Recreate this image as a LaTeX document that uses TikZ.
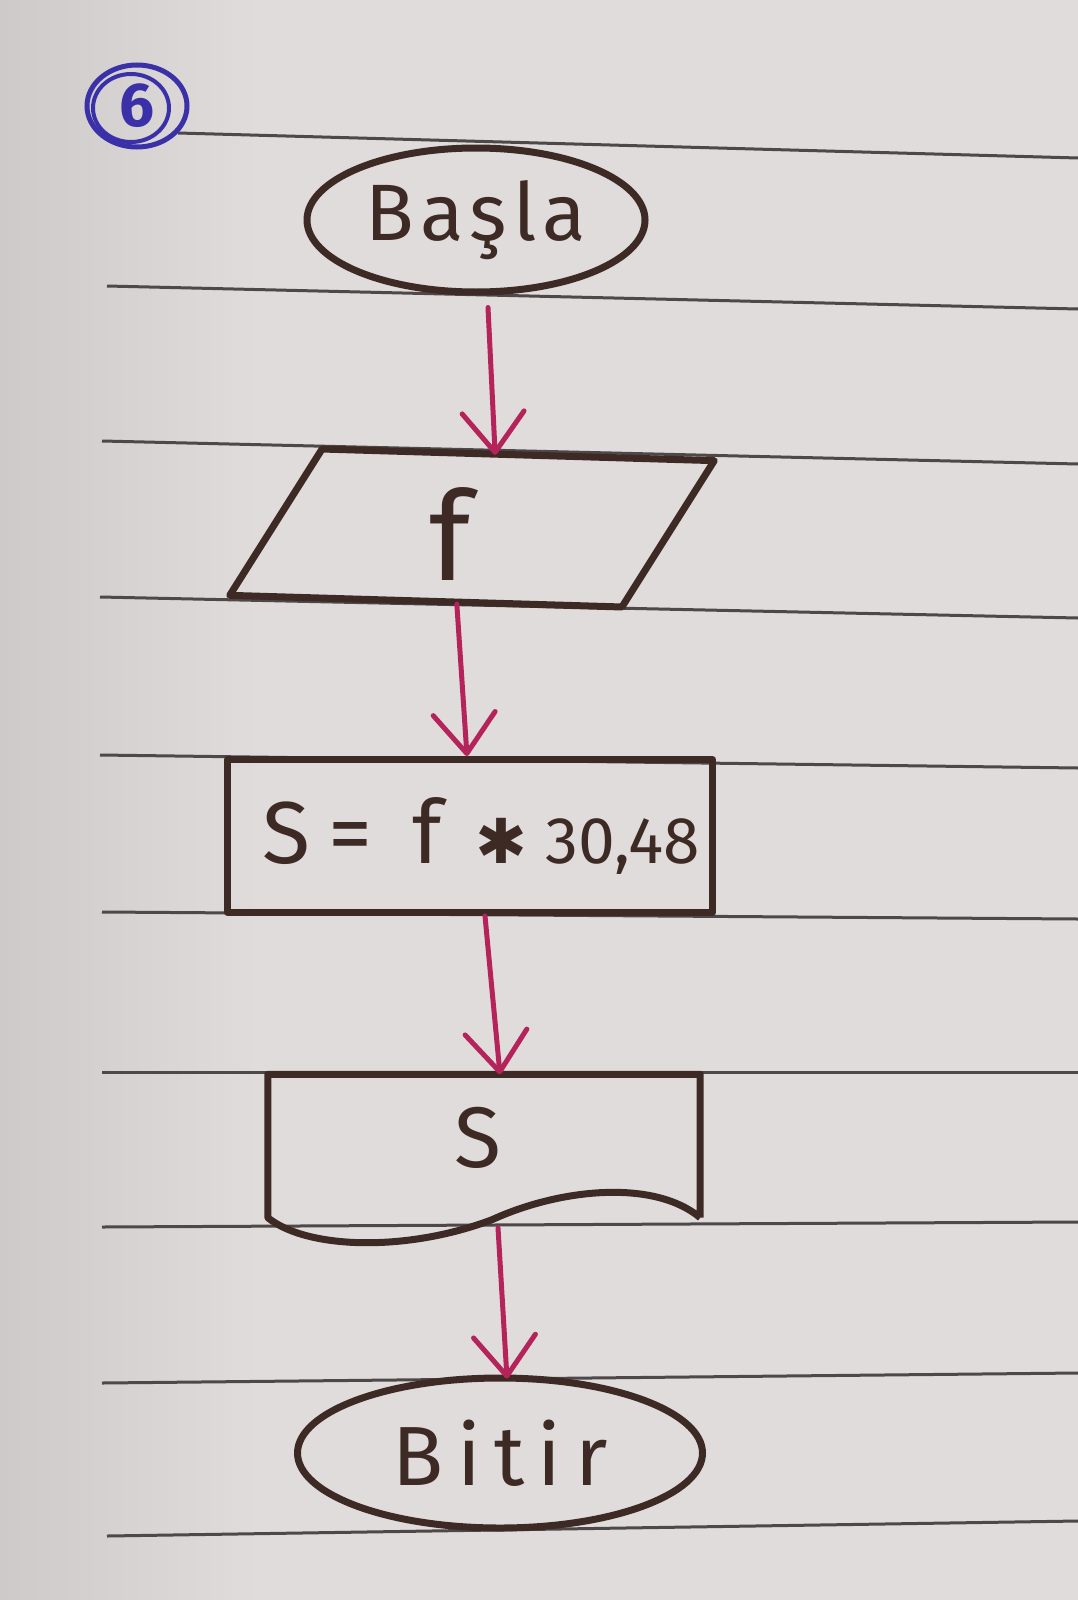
\documentclass[tikz,border=0pt]{standalone}
\usepackage{fontspec}
\setmainfont{Fira Sans}
\newfontfamily\symfam{DejaVu Sans}
\usetikzlibrary{shapes.geometric,arrows.meta,calc}
\definecolor{paper}{RGB}{224,220,219}
\definecolor{paperdark}{RGB}{206,202,202}
\definecolor{ruleink}{RGB}{78,72,72}
\definecolor{ink}{RGB}{62,42,36}
\definecolor{arrowink}{RGB}{180,36,90}
\definecolor{blueink}{RGB}{58,48,168}
\tikzset{
  ruled/.style={ruleink, line width=3pt},
  shapeline/.style={draw=ink, line width=7pt, line join=round},
  flowtext/.style={text=ink, font=\fontsize{80}{84}\selectfont},
  flowarrow/.style={arrowink, line width=5pt, line cap=round,
    -{Straight Barb[length=40pt, width=62pt, line cap=round, line join=round]}},
}
\begin{document}
\begin{tikzpicture}[x=1pt,y=-1pt]
\useasboundingbox (0,0) rectangle (1078,1600);
\fill[paper] (0,0) rectangle (1078,1600);
\shade[left color=paperdark, right color=paper] (0,0) rectangle (260,1600);

% ruled notebook lines
\foreach \ya/\xa/\yb in {133/178/158, 286/107/309, 441/102/464, 597/100/618, 755/100/768,
  912/102/919, 1072/102/1072, 1227/102/1222, 1383/102/1373, 1536/107/1521}
  \draw[ruled] (\xa,\ya) -- (1078,\yb);

% circled number
\node[text=blueink, font=\bfseries\fontsize{62}{62}\selectfont] (num) at (137,106) {6};
\draw[blueink, line width=5pt] (num.center) ellipse [x radius=50pt, y radius=41pt];
\draw[blueink, line width=4pt] ($(num.center)+(-6,2)$) ellipse [x radius=38pt, y radius=34pt];

% flowchart shapes
\node[ellipse, shapeline, minimum width=338pt, minimum height=144pt, flowtext]
  (start) at (476,220) {\addfontfeature{LetterSpace=8}Başla};

\node[minimum width=392pt, minimum height=146pt, rotate=-1.7] (io) at (472,528) {};
\draw[shapeline] ($(io.north west)+(44,0)$) -- ($(io.north east)+(44,0)$)
  -- ($(io.south east)+(-44,0)$) -- ($(io.south west)+(-44,0)$) -- cycle;
\node[text=ink, font=\fontsize{124}{124}\selectfont] (iotext) at (450,534) {f};

\node[rectangle, shapeline, minimum width=485pt, minimum height=153pt]
  (proc) at (470,836) {};
\node[text=ink, anchor=west, inner sep=0pt] (proctext) at (262,836)
  {{\fontsize{88}{90}\selectfont S\hspace{18pt}=\hspace{40pt}f\hspace{34pt}}%
   {\symfam\fontsize{62}{62}\selectfont\raisebox{0pt}{✱}}\hspace{18pt}%
   {\fontsize{66}{68}\selectfont 30,48}};

\node[minimum width=432pt, minimum height=143pt] (out) at (484,1146) {};
\draw[shapeline] (out.south east) -- (out.north east) -- (out.north west) -- (out.south west)
  .. controls ($(out.south west)+(40,32)$) and ($(out.south west)+(140,34)$) .. ($(out.south)+(8,2)$)
  .. controls ($(out.south)+(78,-30)$) and ($(out.south east)+(-45,-38)$) .. (out.south east);
\node[text=ink, font=\fontsize{86}{86}\selectfont] (outtext) at (478,1138) {S};

\node[ellipse, shapeline, minimum width=405pt, minimum height=150pt, flowtext,
  font=\fontsize{84}{86}\selectfont]
  (stop) at (500,1453) {\addfontfeature{LetterSpace=16}Bitir};

% connectors
\draw[flowarrow] ([xshift=12pt,yshift=-12pt]start.south) -- ([xshift=21pt]io.north);
\draw[flowarrow] ([xshift=-13pt,yshift=-3pt]io.south) -- ([xshift=-3pt]proc.north);
\draw[flowarrow] ([xshift=15pt]proc.south) -- ([xshift=16pt]out.north);
\draw[flowarrow] ([xshift=14pt,yshift=-10pt]out.south) -- ([xshift=7pt,yshift=-4pt]stop.north);
\end{tikzpicture}
\end{document}
